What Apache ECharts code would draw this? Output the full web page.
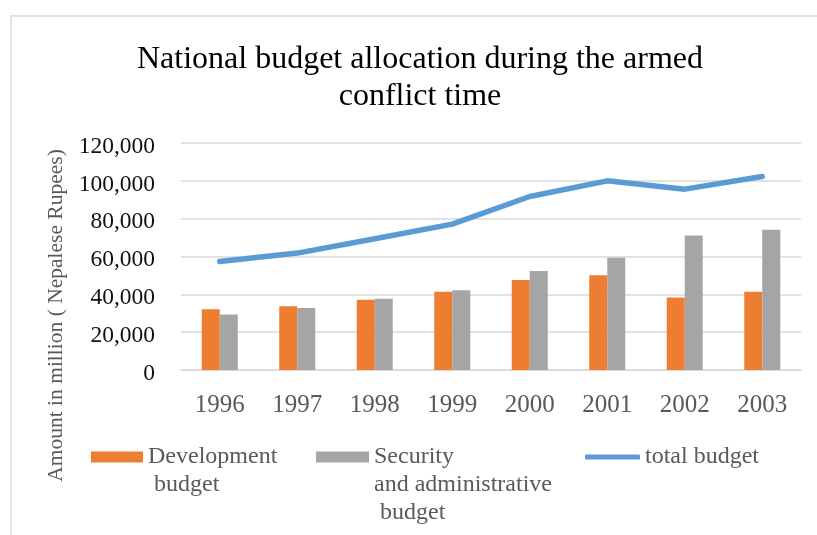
<!DOCTYPE html>
<html>
<head>
<meta charset="utf-8">
<title>National budget allocation</title>
<script src="https://cdn.jsdelivr.net/npm/echarts@6/dist/echarts.min.js"></script>
<style>
html, body { margin: 0; padding: 0; background: #fff; }
#chart { width: 817px; height: 535px; }
</style>
</head>
<body>
<div id="chart"></div>
<script>
// data (million rupees)
var years = ['1996', '1997', '1998', '1999', '2000', '2001', '2002', '2003'];
var development = [32100, 33700, 37200, 41400, 47600, 50100, 38300, 41400];
var security = [29300, 32800, 37600, 42200, 52400, 59400, 71100, 74100];
var total = [57300, 61800, 69400, 77100, 91700, 100000, 95600, 102300];
var yTicks = [0, 20000, 40000, 60000, 80000, 100000, 120000];

var seriesNames = ['Development budget', 'Security and administrative budget', 'total budget'];
// legend labels as wrapped in the picture, blank lines put first line next to icon
var legendLabels = {
	'Development budget': '\nDevelopment\n budget',
	'Security and administrative budget': '\n\nSecurity\nand administrative\n budget',
	'total budget': 'total budget'
};

var serif = '"Liberation Serif", "Times New Roman", serif';
var legendText = { fontFamily: serif, fontSize: 24, lineHeight: 28, color: '#595959' };

function legendFor(name, left, top, icon, w, h) {
	return {
		data: [name],
		left: left,
		top: top,
		padding: 0,
		icon: icon,
		itemWidth: w,
		itemHeight: h,
		selectedMode: false,
		textStyle: legendText,
		formatter: function (n) { return legendLabels[n]; }
	};
}

var chart;

var option = {
	animation: false,
	backgroundColor: '#fff',
	title: {
		text: 'National budget allocation during the armed\nconflict time',
		left: 420,
		top: 41,
		padding: 0,
		textAlign: 'center',
		textStyle: {
			fontFamily: serif,
			fontSize: 32,
			lineHeight: 37,
			fontWeight: 'normal',
			color: '#000'
		}
	},
	graphic: [{
		type: 'rect',
		shape: { x: 11, y: 16, width: 900, height: 600 },
		style: { fill: 'none', stroke: '#d9d9d9', lineWidth: 1.5 },
		silent: true
	}],
	legend: [
		legendFor(seriesNames[0], 91, 415, 'rect', 52, 11),
		legendFor(seriesNames[1], 316, 387, 'rect', 53, 11),
		legendFor(seriesNames[2], 585, 443, 'roundRect', 55, 5)
	],
	grid: {
		left: 181,
		right: 16,
		top: 143,
		bottom: 165
	},
	xAxis: {
		type: 'category',
		data: years,
		axisLine: { lineStyle: { color: '#d9d9d9', width: 1.5 } },
		axisTick: { show: false },
		axisLabel: {
			margin: 23,
			fontFamily: serif,
			fontSize: 25,
			color: '#595959'
		}
	},
	yAxis: {
		type: 'value',
		min: yTicks[0],
		max: yTicks[yTicks.length - 1],
		interval: yTicks[1] - yTicks[0],
		name: 'Amount in million ( Nepalese Rupees)',
		nameLocation: 'middle',
		nameGap: 113,
		nameTextStyle: {
			fontFamily: serif,
			fontSize: 21.5,
			color: '#595959',
			padding: [0, 118, 0, 0]
		},
		axisLine: { show: false },
		axisTick: { show: false },
		splitLine: { lineStyle: { color: '#d9d9d9', width: 1.5 } },
		axisLabel: {
			margin: 26,
			formatter: function (v) { return '{n|' + v.toLocaleString('en-US') + '}'; },
			rich: {
				n: {
					fontFamily: serif,
					fontSize: 23.5,
					color: '#111',
					padding: [7, 0, 0, 0]
				}
			}
		}
	},
	series: [
		{
			name: seriesNames[0],
			type: 'bar',
			barWidth: 18,
			barGap: '0%',
			itemStyle: { color: '#ED7D31' },
			data: development
		}, {
			name: seriesNames[1],
			type: 'bar',
			barWidth: 18,
			barGap: '0%',
			itemStyle: { color: '#A5A5A5' },
			data: security
		}, {
			name: seriesNames[2],
			type: 'line',
			symbol: 'none',
			itemStyle: { color: '#5B9BD5' },
			lineStyle: { color: '#5B9BD5', width: 5.5, cap: 'round', join: 'round' },
			data: total
		}
	]
};

chart = echarts.init(document.getElementById('chart'));
chart.setOption(option);
</script>
</body>
</html>
